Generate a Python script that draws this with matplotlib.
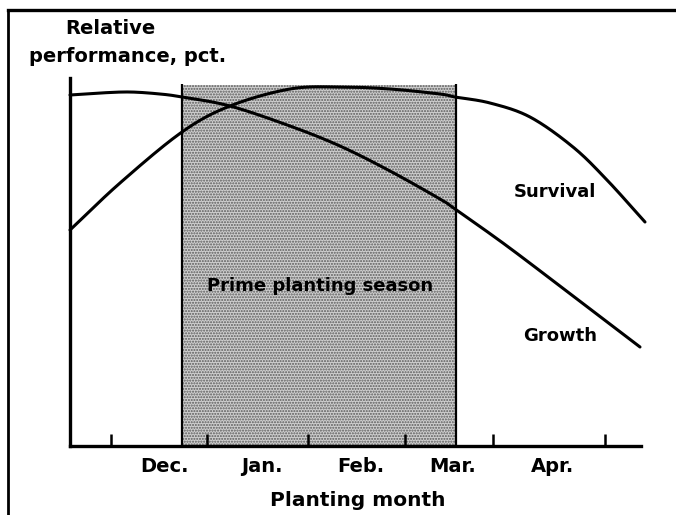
import matplotlib
matplotlib.use("Agg")
import matplotlib.pyplot as plt
from matplotlib.lines import Line2D
import numpy as np

# x in pixel-like units from the left axis, y in units above the baseline
growth_x = [0, 30, 60, 90, 112, 160, 220, 270, 320, 370, 385, 437, 503, 570]
growth_y = [351, 353, 354, 352, 349, 340, 320, 300, 275, 247, 237, 200, 150, 99]
survival_x = [0, 50, 112, 160, 220, 270, 320, 370, 385, 420, 460, 503, 537, 575]
survival_y = [216, 263, 314, 340, 357, 359, 357, 352, 349, 343, 329, 299, 266, 224]

season_start, season_end = 112, 386
season_top = 361
tick_positions = [41, 137, 238, 335, 423, 535]
month_positions = [94, 192, 291, 383, 483]
month_labels = ["Dec.", "Jan.", "Feb.", "Mar.", "Apr."]

W, H = 676, 515
fig = plt.figure(figsize=(W / 100, H / 100), dpi=100)
ax = fig.add_axes([70 / W, (H - 446) / H, (641 - 70) / W, (446 - 78) / H])
ax.set_xlim(0, 571)
ax.set_ylim(0, 368)

ax.fill_between([season_start, season_end], 0, season_top, facecolor="#cfcfcf",
                edgecolor="#5a5a5a", hatch="......", linewidth=0, zorder=1)
ax.vlines([season_start, season_end], 0, season_top + 1, color="black", lw=1.6, zorder=2)


def catmull_rom(xs, ys, n=30):
    p = np.column_stack([xs, ys]).astype(float)
    p = np.vstack([2 * p[0] - p[1], p, 2 * p[-1] - p[-2]])
    out = []
    t = np.linspace(0, 1, n, endpoint=False)[:, None]
    for i in range(1, len(p) - 2):
        p0, p1, p2, p3 = p[i - 1], p[i], p[i + 1], p[i + 2]
        seg = 0.5 * ((2 * p1) + (-p0 + p2) * t + (2 * p0 - 5 * p1 + 4 * p2 - p3) * t ** 2
                     + (-p0 + 3 * p1 - 3 * p2 + p3) * t ** 3)
        out.append(seg)
    out.append(p[-2][None, :])
    out = np.vstack(out)
    return out[:, 0], out[:, 1]


gx, gy = catmull_rom(growth_x, growth_y)
sx, sy = catmull_rom(survival_x, survival_y)
ax.plot(gx, gy, color="black", lw=2.2, solid_capstyle="round", zorder=3, clip_on=False)
ax.plot(sx, sy, color="black", lw=2.2, solid_capstyle="round", zorder=3, clip_on=False)

for s in ["top", "right"]:
    ax.spines[s].set_visible(False)
ax.spines["left"].set_linewidth(2.4)
ax.spines["bottom"].set_linewidth(2.4)
ax.set_xticks(tick_positions)
ax.set_xticklabels([])
ax.tick_params(axis="x", direction="in", length=9, width=1.8, color="black")
ax.set_yticks([])
ax.set_xticks(month_positions, minor=True)
ax.set_xticklabels(month_labels, minor=True, fontsize=14, fontweight="bold",
                   family="DejaVu Sans")
ax.tick_params(axis="x", which="minor", length=0, pad=8)

fig.text(358 / W, 1 - 500 / H, "Planting month", ha="center", va="center",
         fontsize=14.5, fontweight="bold", family="DejaVu Sans")
fig.text(110 / W, 1 - 29 / H, "Relative", ha="center", va="center",
         fontsize=14, fontweight="bold", family="DejaVu Sans")
fig.text(128 / W, 1 - 57 / H, "performance, pct.", ha="center", va="center",
         fontsize=14, fontweight="bold", family="DejaVu Sans")
ax.text(250, 160, "Prime planting season", ha="center", va="center",
        fontsize=13, fontweight="bold", family="DejaVu Sans", zorder=4)
ax.text(485, 254, "Survival", ha="center", va="center",
        fontsize=13, fontweight="bold", family="DejaVu Sans")
ax.text(490, 110, "Growth", ha="center", va="center",
        fontsize=13, fontweight="bold", family="DejaVu Sans")

fig.add_artist(Line2D([8 / W, 8 / W], [0, 1 - 10 / H], transform=fig.transFigure,
                      color="black", lw=2))
fig.add_artist(Line2D([8 / W, 1], [1 - 10 / H, 1 - 10 / H], transform=fig.transFigure,
                      color="black", lw=2.4))

fig.savefig("out.png", dpi=100)
